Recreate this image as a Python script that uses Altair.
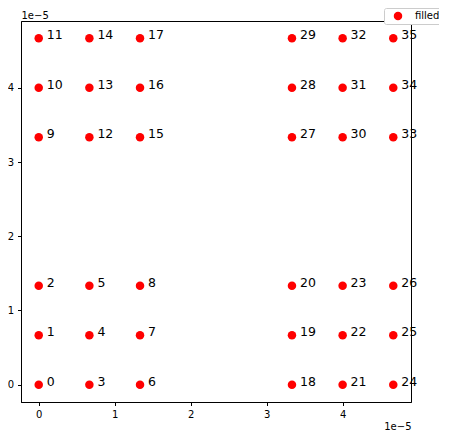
import altair as alt
import pandas as pd

# grid coordinates (actual values)
x_vals = [0.0, 6.667e-6, 1.3333e-5, 3.3333e-5, 4.0e-5, 4.6667e-5]
y_vals = [0.0, 6.667e-6, 1.3333e-5, 3.3333e-5, 4.0e-5, 4.6667e-5]
# labels: row per x position, column per y position
labels = [
    [0, 1, 2, 9, 10, 11],
    [3, 4, 5, 12, 13, 14],
    [6, 7, 8, 15, 16, 17],
    [18, 19, 20, 27, 28, 29],
    [21, 22, 23, 30, 31, 32],
    [24, 25, 26, 33, 34, 35],
]
ticks = [0, 1e-5, 2e-5, 3e-5, 4e-5]
series_name = "filled"

rows = []
for i, xv in enumerate(x_vals):
    for j, yv in enumerate(y_vals):
        rows.append({"x": xv, "y": yv, "label": str(labels[i][j]), "kind": series_name})
df = pd.DataFrame(rows)

dom = [-0.23333e-5, 4.9e-5]

xenc = alt.X("x:Q", scale=alt.Scale(domain=dom, nice=False, zero=False),
             axis=alt.Axis(values=ticks, labelExpr="format(round(datum.value*1e5), 'd')",
                           title="1e\u22125", titleAngle=0, titleAlign="right", titleX=390,
                           titleY=27, titleBaseline="alphabetic", titleFontWeight="normal",
                           titleFontSize=10))
yenc = alt.Y("y:Q", scale=alt.Scale(domain=dom, nice=False, zero=False),
             axis=alt.Axis(values=ticks, labelExpr="format(round(datum.value*1e5), 'd')",
                           title="1e\u22125", titleAngle=0, titleAlign="left", titleX=0,
                           titleY=-3, titleBaseline="alphabetic", titleFontWeight="normal",
                           titleFontSize=10))

points = alt.Chart(df).mark_point(filled=True, size=72, opacity=1, shape="circle").encode(
    x=xenc, y=yenc,
    color=alt.Color("kind:N", scale=alt.Scale(range=["#ff0000"]),
                    legend=alt.Legend(title=None, orient="none", legendX=363, legendY=-13,
                                      padding=3, strokeColor="#cccccc", fillColor="white",
                                      cornerRadius=2, symbolSize=72, symbolOffset=6,
                                      labelOffset=12, labelFontSize=10, labelColor="black",
                                      symbolStrokeWidth=0)),
)
texts = alt.Chart(df).mark_text(align="left", baseline="alphabetic", dx=8, dy=1,
                                fontSize=12.5, color="black").encode(
    x="x:Q", y="y:Q", text="label:N")

chart = alt.layer(points, texts).properties(
    width=390, height=381,
    padding={"left": 13, "top": 13, "right": 28, "bottom": 28},
    autosize=alt.AutoSizeParams(type="none"),
).configure(font="DejaVu Sans").configure_axis(
    grid=False, domainColor="black", tickColor="black", labelColor="black",
    titleColor="black", labelFontSize=10, tickSize=3.5, labelPadding=4,
    domainWidth=1,
).configure_view(stroke="black", strokeWidth=1)

chart.save("out.html", embed_options={"renderer": "svg", "actions": False})
